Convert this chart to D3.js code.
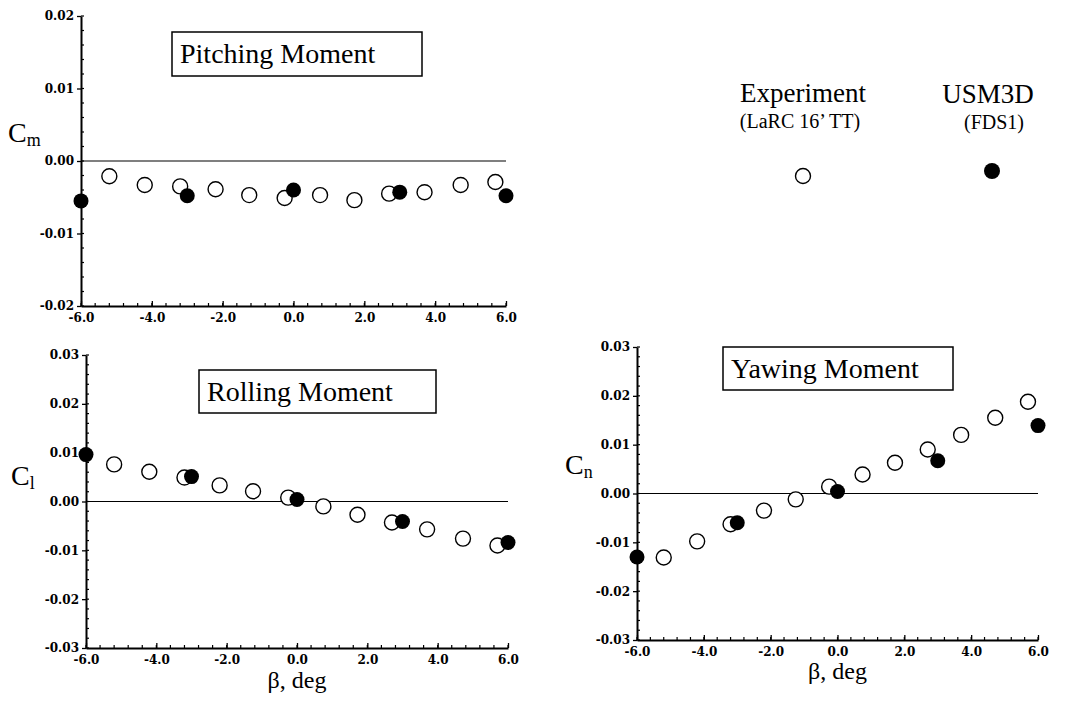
<!DOCTYPE html>
<html>
<head>
<meta charset="utf-8">
<script src="https://cdn.jsdelivr.net/npm/d3@7"></script>
<style>
  body { margin: 0; background: #fff; }
  .serif { font-family: "Liberation Serif", "Times New Roman", serif; fill: #000; }
  .tick text { font-family: "DejaVu Serif", serif; font-size: 12px; font-weight: bold; fill: #000; }
  .domain { stroke: #000; stroke-width: 2; }
  .tick line { stroke: #000; stroke-width: 1.3; }
</style>
</head>
<body>
<div id="viz-container"></div>
<script>
// sideslip angles (deg)
var betaExp = [-5.2, -4.2, -3.2, -2.2, -1.25, -0.25, 0.75, 1.72, 2.7, 3.7, 4.72, 5.7];
var betaCfd = [-6.0, -3.0, 0.0, 3.0, 6.0];

// pitching moment
var cmExp = [-0.0021, -0.0033, -0.0035, -0.0039, -0.0047, -0.0051, -0.0047, -0.0054, -0.0045, -0.0043, -0.0033, -0.0029];
var cmCfd = [-0.0055, -0.0048, -0.0040, -0.0043, -0.0048];

// rolling moment
var clExp = [0.0076, 0.0061, 0.0049, 0.0033, 0.0021, 0.0008, -0.0010, -0.0027, -0.0043, -0.0057, -0.0076, -0.0090];
var clCfd = [0.0096, 0.0051, 0.0004, -0.0041, -0.0084];

// yawing moment
var cnExp = [-0.0131, -0.0098, -0.0063, -0.0035, -0.0012, 0.0014, 0.0039, 0.0063, 0.0090, 0.0120, 0.0155, 0.0188];
var cnCfd = [-0.0130, -0.0060, 0.0004, 0.0067, 0.0139];

var xTicks = [-6, -4, -2, 0, 2, 4, 6];

var fmt = d3.formatLocale({decimal: ".", thousands: ",", grouping: [3], currency: ["", ""], minus: "-"});

var svg = d3.select('#viz-container').append('svg')
	.attr('width', 1087)
	.attr('height', 704);

function panel(p) {
	var g = svg.append('g');

	var x = d3.scaleLinear().domain([-6, 6]).range([p.x0, p.x1]);
	var y = d3.scaleLinear().domain([-p.ymax, p.ymax]).range([p.yb, p.yt]);

	var yMajor = d3.range(-p.ymax, p.ymax + 0.0001, 0.01);
	var yMinor = d3.range(-p.ymax, p.ymax + 0.0001, 0.002);
	var xMinor = d3.range(-6, 6.01, 0.4);

	// minor ticks (inside)
	g.append('g').selectAll('line')
		.data(yMinor)
		.enter().append('line')
		.attr('x1', p.x0).attr('x2', p.x0 + 3)
		.attr('y1', function(d) {return y(d);})
		.attr('y2', function(d) {return y(d);})
		.attr('stroke', '#000').attr('stroke-width', 1.2);
	g.append('g').selectAll('line')
		.data(xMinor)
		.enter().append('line')
		.attr('x1', function(d) {return x(d);})
		.attr('x2', function(d) {return x(d);})
		.attr('y1', p.yb).attr('y2', p.yb - 3)
		.attr('stroke', '#000').attr('stroke-width', 1.2);

	g.append('g')
		.attr('transform', 'translate(' + p.x0 + ',0)')
		.call(d3.axisLeft(y).tickValues(yMajor).tickSizeInner(4).tickSizeOuter(0).tickPadding(3).tickFormat(fmt.format('.2f')));

	g.append('g')
		.attr('transform', 'translate(0,' + p.yb + ')')
		.call(d3.axisBottom(x).tickValues(xTicks).tickSizeInner(-5).tickSizeOuter(0).tickPadding(7).tickFormat(fmt.format('.1f')));

	// zero line
	g.append('line')
		.attr('x1', x(-6)).attr('x2', x(6))
		.attr('y1', y(0)).attr('y2', y(0))
		.attr('stroke', '#000').attr('stroke-width', 1.2);

	// title box
	g.append('rect')
		.attr('x', p.box[0]).attr('y', p.box[1])
		.attr('width', p.box[2]).attr('height', p.box[3])
		.attr('fill', '#fff').attr('stroke', '#000').attr('stroke-width', 1.5);
	g.append('text')
		.attr('class', 'serif')
		.attr('x', p.box[0] + 8)
		.attr('y', p.box[1] + 31)
		.style('font-size', '28px')
		.text(p.title);

	// y label
	var yl = g.append('text')
		.attr('class', 'serif')
		.attr('x', p.lab[0]).attr('y', p.lab[1])
		.style('font-size', '28px');
	yl.append('tspan').text('C');
	yl.append('tspan').attr('dy', 4).style('font-size', '18px').text(p.sub);

	if (p.xlabel) {
		g.append('text')
			.attr('class', 'serif')
			.attr('x', (p.x0 + p.x1) / 2)
			.attr('y', p.yb + p.xlabel)
			.attr('text-anchor', 'middle')
			.style('font-size', '24px')
			.text('β, deg');
	}

	// experiment (open) then USM3D (filled)
	g.append('g').selectAll('circle')
		.data(p.exp)
		.enter().append('circle')
		.attr('cx', function(d, i) {return x(betaExp[i]);})
		.attr('cy', function(d) {return y(d);})
		.attr('r', 7.5)
		.attr('fill', '#fff').attr('stroke', '#000').attr('stroke-width', 1.4);
	g.append('g').selectAll('circle')
		.data(p.cfd)
		.enter().append('circle')
		.attr('cx', function(d, i) {return x(betaCfd[i]);})
		.attr('cy', function(d) {return y(d);})
		.attr('r', 7.5)
		.attr('fill', '#000');
}

panel({x0: 81, x1: 506, yt: 16, yb: 306, ymax: 0.02, title: 'Pitching Moment', box: [172, 32, 250, 44],
	lab: [8, 142], sub: 'm', exp: cmExp, cfd: cmCfd, xlabel: 0});
panel({x0: 86, x1: 508, yt: 355, yb: 648, ymax: 0.03, title: 'Rolling Moment', box: [199, 370, 237, 43],
	lab: [11, 485], sub: 'l', exp: clExp, cfd: clCfd, xlabel: 40});
panel({x0: 637, x1: 1038, yt: 347, yb: 640, ymax: 0.03, title: 'Yawing Moment', box: [723, 347, 230, 43],
	lab: [565, 474], sub: 'n', exp: cnExp, cfd: cnCfd, xlabel: 39});

// legend
var leg = svg.append('g');
leg.append('text').attr('class', 'serif').attr('x', 803).attr('y', 102)
	.attr('text-anchor', 'middle').style('font-size', '27px').text('Experiment');
leg.append('text').attr('class', 'serif').attr('x', 800).attr('y', 128)
	.attr('text-anchor', 'middle').style('font-size', '20px').text('(LaRC 16’ TT)');
leg.append('circle').attr('cx', 803).attr('cy', 176).attr('r', 7.5)
	.attr('fill', '#fff').attr('stroke', '#000').attr('stroke-width', 1.4);
leg.append('text').attr('class', 'serif').attr('x', 988).attr('y', 103)
	.attr('text-anchor', 'middle').style('font-size', '27px').text('USM3D');
leg.append('text').attr('class', 'serif').attr('x', 994).attr('y', 129)
	.attr('text-anchor', 'middle').style('font-size', '20px').text('(FDS1)');
leg.append('circle').attr('cx', 992).attr('cy', 171).attr('r', 8)
	.attr('fill', '#000');
</script>
</body>
</html>
